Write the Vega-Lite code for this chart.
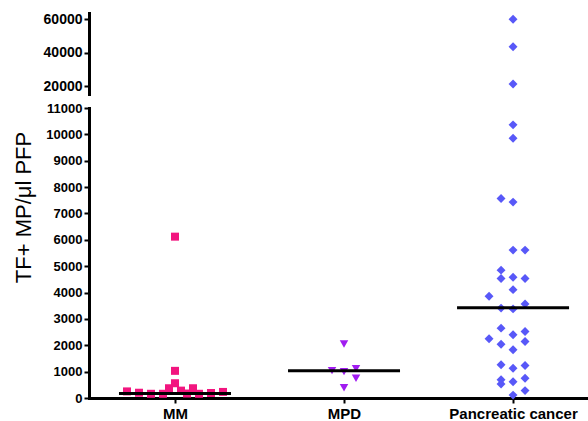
{
  "$schema": "https://vega.github.io/schema/vega-lite/v6.json",
  "autosize": {"type": "pad"},
  "padding": {"left": 11, "top": 12, "right": 0, "bottom": 5},
  "spacing": 8,
  "config": {
    "view": {"stroke": null},
    "axis": {
      "domainColor": "black", "domainWidth": 3, "domainCap": "square",
      "tickColor": "black", "tickWidth": 2, "tickSize": 5,
      "labelFont": "Liberation Sans", "labelFontWeight": "bold", "labelFontSize": 14, "labelColor": "black",
      "labelOverlap": false,
      "grid": false,
      "titleFont": "Liberation Sans", "titleFontWeight": "normal", "titleFontSize": 22, "titleColor": "black"
    }
  },
  "datasets": {
    "pts": [
      {"group": "MM", "value": 250, "col": -4},
      {"group": "MM", "value": 200, "col": -3},
      {"group": "MM", "value": 160, "col": -2},
      {"group": "MM", "value": 160, "col": -1},
      {"group": "MM", "value": 370, "col": -0.5},
      {"group": "MM", "value": 560, "col": 0},
      {"group": "MM", "value": 1030, "col": 0},
      {"group": "MM", "value": 6120, "col": 0},
      {"group": "MM", "value": 280, "col": 0.5},
      {"group": "MM", "value": 170, "col": 1},
      {"group": "MM", "value": 370, "col": 1.5},
      {"group": "MM", "value": 160, "col": 2},
      {"group": "MM", "value": 190, "col": 3},
      {"group": "MM", "value": 230, "col": 4},
      {"group": "MPD", "value": 2050, "col": 0},
      {"group": "MPD", "value": 1040, "col": -1},
      {"group": "MPD", "value": 1000, "col": 0},
      {"group": "MPD", "value": 1115, "col": 1},
      {"group": "MPD", "value": 750, "col": 1},
      {"group": "MPD", "value": 390, "col": 0},
      {"group": "Pancreatic cancer", "value": 60000, "col": 0},
      {"group": "Pancreatic cancer", "value": 43600, "col": 0},
      {"group": "Pancreatic cancer", "value": 21200, "col": 0},
      {"group": "Pancreatic cancer", "value": 10360, "col": 0},
      {"group": "Pancreatic cancer", "value": 9850, "col": 0},
      {"group": "Pancreatic cancer", "value": 7570, "col": -1},
      {"group": "Pancreatic cancer", "value": 7430, "col": 0},
      {"group": "Pancreatic cancer", "value": 5610, "col": 0},
      {"group": "Pancreatic cancer", "value": 5610, "col": 1},
      {"group": "Pancreatic cancer", "value": 4850, "col": -1},
      {"group": "Pancreatic cancer", "value": 4530, "col": -1},
      {"group": "Pancreatic cancer", "value": 4580, "col": 0},
      {"group": "Pancreatic cancer", "value": 4530, "col": 1},
      {"group": "Pancreatic cancer", "value": 4110, "col": 0},
      {"group": "Pancreatic cancer", "value": 3860, "col": -2},
      {"group": "Pancreatic cancer", "value": 3410, "col": -1},
      {"group": "Pancreatic cancer", "value": 3380, "col": 0},
      {"group": "Pancreatic cancer", "value": 3570, "col": 1},
      {"group": "Pancreatic cancer", "value": 2650, "col": -1},
      {"group": "Pancreatic cancer", "value": 2400, "col": 0},
      {"group": "Pancreatic cancer", "value": 2520, "col": 1},
      {"group": "Pancreatic cancer", "value": 2250, "col": -2},
      {"group": "Pancreatic cancer", "value": 2040, "col": -1},
      {"group": "Pancreatic cancer", "value": 2140, "col": 1},
      {"group": "Pancreatic cancer", "value": 1830, "col": 0},
      {"group": "Pancreatic cancer", "value": 1260, "col": -1},
      {"group": "Pancreatic cancer", "value": 1130, "col": 0},
      {"group": "Pancreatic cancer", "value": 1230, "col": 1},
      {"group": "Pancreatic cancer", "value": 690, "col": -1},
      {"group": "Pancreatic cancer", "value": 530, "col": -1},
      {"group": "Pancreatic cancer", "value": 620, "col": 0},
      {"group": "Pancreatic cancer", "value": 750, "col": 1},
      {"group": "Pancreatic cancer", "value": 280, "col": 1},
      {"group": "Pancreatic cancer", "value": 110, "col": 0}
    ],
    "med": [
      {"group": "MM", "median": 175},
      {"group": "MPD", "median": 1030},
      {"group": "Pancreatic cancer", "median": 3420}
    ]
  },
  "resolve": {"scale": {"y": "independent"}},
  "vconcat": [
    {
      "width": 500, "height": 81,
      "data": {"name": "pts"},
      "transform": [{"filter": "datum.value > 15000"}],
      "mark": {"type": "point", "filled": true, "opacity": 1, "strokeWidth": 0, "clip": true},
      "encoding": {
        "x": {"field": "group", "type": "nominal", "axis": null,
              "scale": {"type": "point", "domain": ["MM", "MPD", "Pancreatic cancer"], "padding": 0.479, "align": 0.531}},
        "xOffset": {"field": "col", "type": "quantitative", "scale": {"domain": [-4, 4], "range": [-48, 48]}},
        "y": {"field": "value", "type": "quantitative",
              "scale": {"domain": [15200, 63800], "nice": false, "zero": false},
              "axis": {"values": [20000, 40000, 60000], "format": "d", "title": null, "labelOverlap": false}},
        "shape": {"field": "group", "type": "nominal", "legend": null,
                  "scale": {"domain": ["MM", "MPD", "Pancreatic cancer"], "range": ["square", "triangle-down", "diamond"]}},
        "color": {"field": "group", "type": "nominal", "legend": null,
                  "scale": {"domain": ["MM", "MPD", "Pancreatic cancer"], "range": ["#F2157F", "#A01CF0", "#5858F8"]}},
        "size": {"field": "group", "type": "nominal", "legend": null,
                 "scale": {"domain": ["MM", "MPD", "Pancreatic cancer"], "range": [64, 80, 100]}}
      }
    },
    {
      "width": 500, "height": 290,
      "layer": [
        {
          "data": {"name": "pts"},
          "transform": [{"filter": "datum.value <= 11000"}],
          "mark": {"type": "point", "filled": true, "opacity": 1, "strokeWidth": 0},
          "encoding": {
            "x": {"field": "group", "type": "nominal",
                  "scale": {"type": "point", "domain": ["MM", "MPD", "Pancreatic cancer"], "padding": 0.479, "align": 0.531},
                  "axis": {"title": null, "labelAngle": 0, "labelPadding": 3, "labelFontSize": 15}},
            "xOffset": {"field": "col", "type": "quantitative", "scale": {"domain": [-4, 4], "range": [-48, 48]}},
            "y": {"field": "value", "type": "quantitative",
                  "scale": {"domain": [0, 11000], "nice": false},
                  "axis": {"values": [0, 1000, 2000, 3000, 4000, 5000, 6000, 7000, 8000, 9000, 10000, 11000], "format": "d",
                           "labelOverlap": false, "labelBound": false, "labelFontSize": 13,
                           "title": "TF+ MP/μl PFP", "titleX": -66, "titleY": 99, "titleAlign": "center", "titleBaseline": "middle", "titleAngle": -90}},
            "shape": {"field": "group", "type": "nominal", "legend": null,
                      "scale": {"domain": ["MM", "MPD", "Pancreatic cancer"], "range": ["square", "triangle-down", "diamond"]}},
            "color": {"field": "group", "type": "nominal", "legend": null,
                      "scale": {"domain": ["MM", "MPD", "Pancreatic cancer"], "range": ["#F2157F", "#A01CF0", "#5858F8"]}},
            "size": {"field": "group", "type": "nominal", "legend": null,
                     "scale": {"domain": ["MM", "MPD", "Pancreatic cancer"], "range": [64, 80, 100]}}
          }
        },
        {
          "data": {"name": "med"},
          "mark": {"type": "tick", "orient": "horizontal", "size": 112, "thickness": 3, "color": "black", "opacity": 1},
          "encoding": {
            "x": {"field": "group", "type": "nominal",
                  "scale": {"type": "point", "domain": ["MM", "MPD", "Pancreatic cancer"], "padding": 0.479, "align": 0.531},
                  "axis": {"title": null, "labelAngle": 0, "labelPadding": 3, "labelFontSize": 15}},
            "y": {"field": "median", "type": "quantitative",
                  "scale": {"domain": [0, 11000], "nice": false},
                  "axis": {"values": [0, 1000, 2000, 3000, 4000, 5000, 6000, 7000, 8000, 9000, 10000, 11000], "format": "d",
                           "labelOverlap": false, "labelBound": false, "labelFontSize": 13,
                           "title": "TF+ MP/μl PFP", "titleX": -66, "titleY": 99, "titleAlign": "center", "titleBaseline": "middle", "titleAngle": -90}}
          }
        }
      ]
    }
  ]
}
